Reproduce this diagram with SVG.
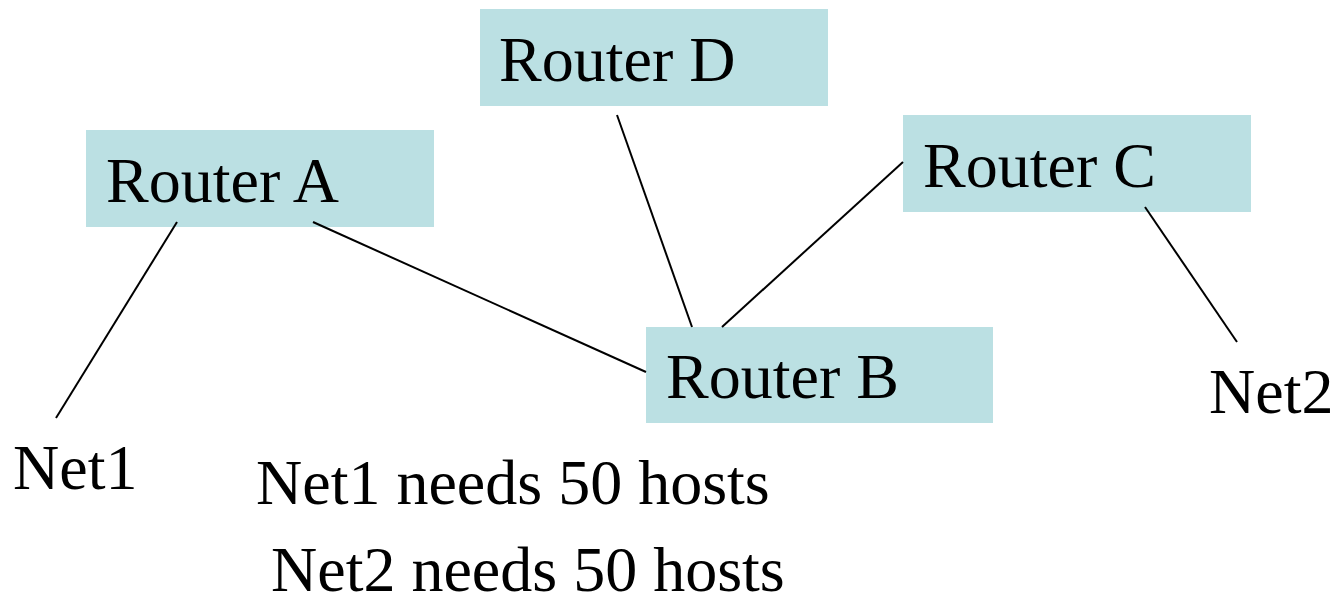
<svg xmlns="http://www.w3.org/2000/svg" width="1338" height="598" viewBox="0 0 1338 598">
<style>
.box{fill:#BBE0E3;stroke:none}
.t{font-family:"Liberation Serif","Times New Roman",serif;font-size:64px;fill:#000}
.c{stroke:#000;stroke-width:2;fill:none}
</style>
<rect width="1338" height="598" fill="#fff"/>
<g id="routerD"><rect class="box" x="480" y="9" width="348" height="97"/><text class="t" x="499" y="81">Router D</text></g>
<g id="routerA"><rect class="box" x="86" y="130" width="348" height="97"/><text class="t" x="106" y="202">Router A</text></g>
<g id="routerC"><rect class="box" x="903" y="115" width="348" height="97"/><text class="t" x="923" y="187">Router C</text></g>
<g id="routerB"><rect class="box" x="646" y="327" width="347" height="96"/><text class="t" x="666" y="398">Router B</text></g>
<g id="net1"><text class="t" x="13" y="489">Net1</text></g>
<g id="net2"><text class="t" x="1209" y="413">Net2</text></g>
<g id="notes">
<text class="t" x="256" y="504">Net1 needs 50 hosts</text>
<text class="t" x="271" y="591">Net2 needs 50 hosts</text>
</g>
<g id="connectors">
<line class="c" x1="177" y1="222" x2="56" y2="418"/>
<line class="c" x1="313" y1="222" x2="646" y2="372"/>
<line class="c" x1="617" y1="115" x2="692" y2="327"/>
<line class="c" x1="903" y1="162" x2="722" y2="327"/>
<line class="c" x1="1145" y1="207" x2="1237" y2="342"/>
</g>
</svg>
